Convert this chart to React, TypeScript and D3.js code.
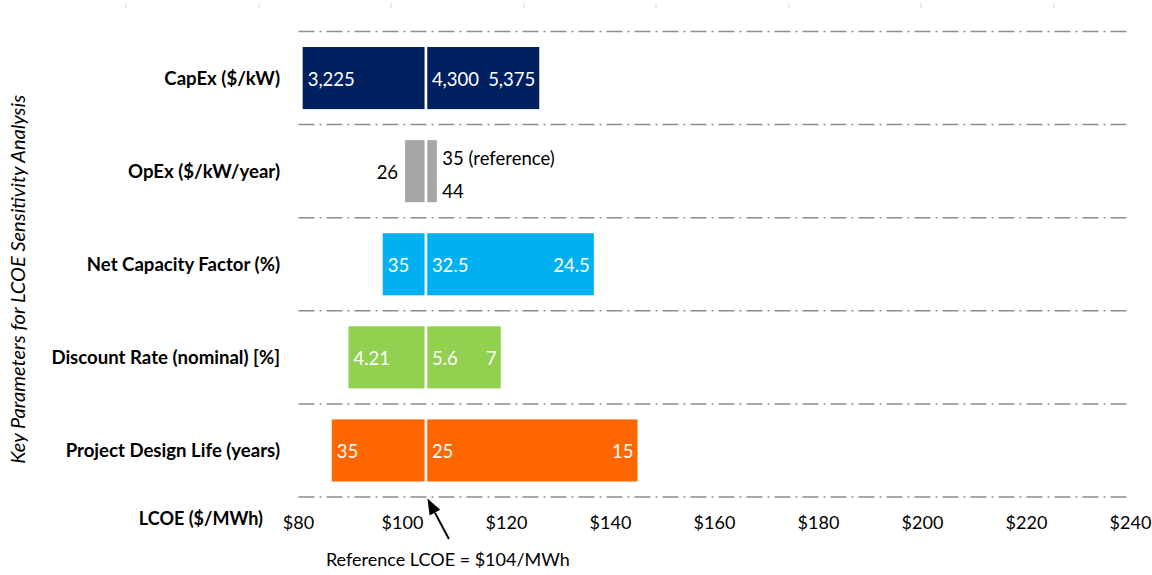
import React from "react";
import * as d3 from "d3";

const categories = [
  "CapEx ($/kW)",
  "OpEx ($/kW/year)",
  "Net Capacity Factor (%)",
  "Discount Rate (nominal) [%]",
  "Project Design Life (years)",
];
const lowLCOE = [80.8, 100.5, 96.2, 89.6, 86.4];
const highLCOE = [126.3, 106.6, 136.8, 118.9, 145.2];
const lowLabels = ["3,225", "26", "35", "4.21", "35"];
const refLabels = ["4,300", "35 (reference)", "32.5", "5.6", "25"];
const highLabels = ["5,375", "44", "24.5", "7", "15"];
const barColors = ["#002060", "#A6A6A6", "#00B0F0", "#92D050", "#FF6600"];
const tickValues = [80, 100, 120, 140, 160, 180, 200, 220, 240];
const REF = 104.5;
const refText = "Reference LCOE = $104/MWh";
const yTitle = "Key Parameters for LCOE Sensitivity Analysis";
const xTitle = "LCOE ($/MWh)";

const W = 1152;
const H = 575;
const FONT = "Lato, 'Open Sans', sans-serif";

export default function App() {
  const x = d3.scaleLinear().domain([80, 240]).range([298.5, 1130.5]);
  const top = 31.5;
  const bottom = 497;
  const y = d3
    .scaleBand<string>()
    .domain(categories)
    .range([top, bottom])
    .paddingInner(1 / 3)
    .paddingOuter(1 / 6);
  const step = y.step();
  const gridYs = d3.range(categories.length + 1).map((i) => top + i * step);
  const gap = 1.35;
  const xr = x(REF);

  // arrow
  const tip = [xr + 1.5, bottom + 1.5];
  const tail = [xr + 23, bottom + 42];
  const dx = tip[0] - tail[0];
  const dy = tip[1] - tail[1];
  const len = Math.hypot(dx, dy);
  const ux = dx / len;
  const uy = dy / len;
  const hl = 16;
  const hw = 6;
  const bc = [tip[0] - hl * ux, tip[1] - hl * uy];
  const px = -uy;
  const py = ux;
  const head = [
    [tip[0], tip[1]],
    [bc[0] + hw * px, bc[1] + hw * py],
    [bc[0] - hw * px, bc[1] - hw * py],
  ];

  return (
    <svg
      width={W}
      height={H}
      style={{ position: "absolute", left: 0, top: 0, background: "#fff" }}
      fontFamily={FONT}
    >
      {/* faint top marks */}
      {[126, 259, 391, 524, 656, 789, 921, 1054].map((mx, i) => (
        <line key={"m" + i} x1={mx} x2={mx} y1={3} y2={8} stroke="#d8d8d8" strokeWidth={1} />
      ))}

      {/* gridlines */}
      {gridYs.map((gy, i) => (
        <line
          key={"g" + i}
          x1={x(80)}
          x2={x(240)}
          y1={gy}
          y2={gy}
          stroke="#8c8c8c"
          strokeWidth={1.5}
          strokeDasharray="16 5 2 5"
        />
      ))}

      {/* bars */}
      {categories.map((c, i) => {
        const by = y(c)!;
        const bh = y.bandwidth();
        const x0 = x(lowLCOE[i]);
        const x1 = x(highLCOE[i]);
        return (
          <g key={c}>
            <rect x={x0} y={by} width={xr - gap - x0} height={bh} fill={barColors[i]} />
            <rect x={xr + gap} y={by} width={x1 - xr - gap} height={bh} fill={barColors[i]} />
          </g>
        );
      })}

      {/* bar labels */}
      {categories.map((c, i) => {
        const cy = y(c)! + y.bandwidth() / 2;
        const x0 = x(lowLCOE[i]);
        const x1 = x(highLCOE[i]);
        if (i === 1) {
          return (
            <g key={"l" + c} fontSize={18.5} fill="#000">
              <text x={x0 - 7} y={cy + 1} dy="0.35em" textAnchor="end">
                {lowLabels[i]}
              </text>
              <text x={x1 + 5.5} y={cy - 12.5} dy="0.35em">
                {refLabels[i]}
              </text>
              <text x={x1 + 5.5} y={cy + 20} dy="0.35em">
                {highLabels[i]}
              </text>
            </g>
          );
        }
        return (
          <g key={"l" + c} fontSize={18.5} fill="#fff">
            <text x={x0 + 5} y={cy + 1} dy="0.35em">
              {lowLabels[i]}
            </text>
            <text x={xr + 6} y={cy + 1} dy="0.35em">
              {refLabels[i]}
            </text>
            <text x={x1 - 4} y={cy + 1} dy="0.35em" textAnchor="end">
              {highLabels[i]}
            </text>
          </g>
        );
      })}

      {/* category labels */}
      {categories.map((c) => (
        <text
          key={"c" + c}
          x={280}
          y={y(c)! + y.bandwidth() / 2}
          dy="0.35em"
          textAnchor="end"
          fontWeight="bold"
          fontSize={18.6}
          fill="#000"
        >
          {c}
        </text>
      ))}

      {/* x tick labels */}
      {tickValues.map((t) => (
        <text key={"t" + t} x={x(t)} y={523} dy="0.35em" textAnchor="middle" fontSize={18} fill="#000">
          {"$" + t}
        </text>
      ))}
      <text x={263} y={519} dy="0.35em" textAnchor="end" fontWeight="bold" fontSize={18} fill="#000">
        {xTitle}
      </text>

      {/* y title */}
      <text
        transform={`translate(18,${(top + bottom) / 2 + 15}) rotate(-90)`}
        textAnchor="middle"
        dy="0.35em"
        fontStyle="italic"
        fontSize={20}
        fill="#000"
      >
        {yTitle}
      </text>

      {/* reference arrow */}
      <line x1={tail[0]} y1={tail[1]} x2={bc[0]} y2={bc[1]} stroke="#000" strokeWidth={2} />
      <polygon points={head.map((p) => p.join(",")).join(" ")} fill="#000" />
      <text x={xr + 22} y={560} dy="0.35em" textAnchor="middle" fontSize={18} fill="#000">
        {refText}
      </text>
    </svg>
  );
}
